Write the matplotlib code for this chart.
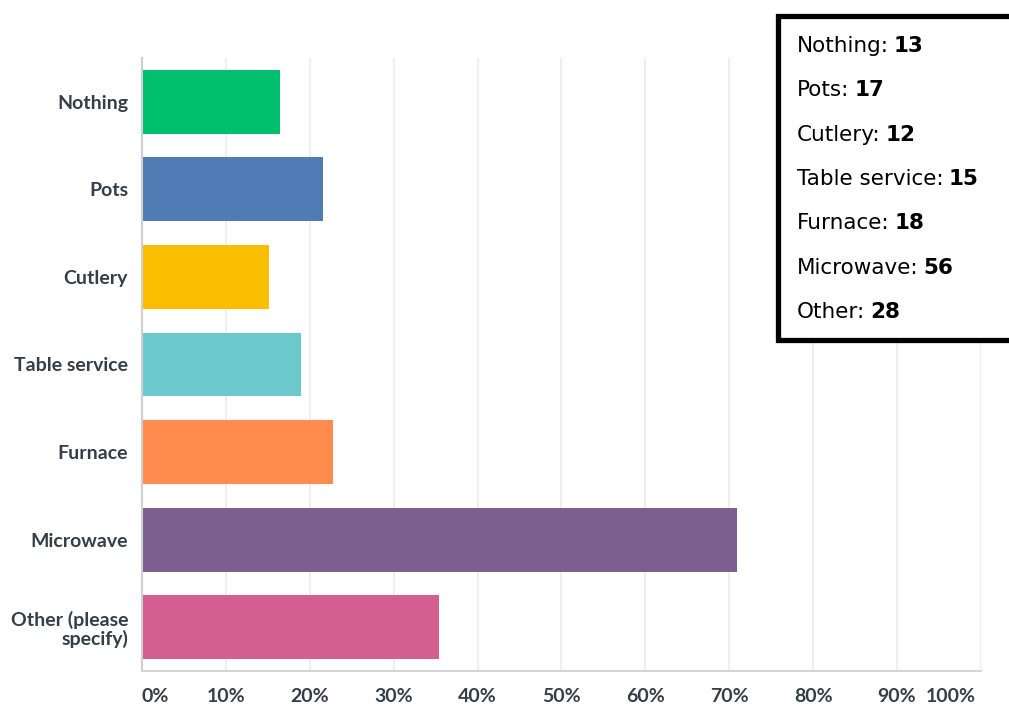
import numpy as np
import matplotlib.pyplot as plt
from matplotlib.patches import Rectangle
from matplotlib.text import Annotation
from matplotlib.transforms import offset_copy

# answers, counts and colours of the survey question
categories = ['Nothing', 'Pots', 'Cutlery', 'Table service', 'Furnace',
              'Microwave', 'Other (please\nspecify)']
box_labels = ['Nothing', 'Pots', 'Cutlery', 'Table service', 'Furnace',
              'Microwave', 'Other']
counts = [13, 17, 12, 15, 18, 56, 28]
respondents = 79
colors = ['#00bf6f', '#507cb6', '#f9be00', '#6bc8cd', '#ff8b4f',
          '#7d5e90', '#d25f90']
xticks = [0, 10, 20, 30, 40, 50, 60, 70, 80, 90, 100]
xtick_labels = ['%d%%' % t for t in xticks]

percent = np.array(counts) / respondents * 100
label_color = '#333e48'

fig = plt.figure(figsize=(10.09, 7.09), dpi=100)
ax = fig.add_axes([0.1407, 0.0536, 0.8315, 0.8646])

y = np.arange(len(categories))
ax.barh(y, percent, height=0.73, color=colors, zorder=2)
ax.set_ylim(len(categories) - 0.5, -0.5)
ax.set_xlim(0, 100)

ax.set_xticks(xticks)
ax.set_xticklabels(xtick_labels)
ax.set_yticks(y)
ax.set_yticklabels(categories)
ax.grid(axis='x', color='#ebebeb', linewidth=1.2, zorder=0)
ax.tick_params(length=0)
ax.tick_params(axis='x', pad=12)
ax.tick_params(axis='y', pad=10)
for lbl in ax.get_xticklabels() + ax.get_yticklabels():
    lbl.set_fontfamily('Lato')
    lbl.set_fontweight('bold')
    lbl.set_fontsize(14)
    lbl.set_color(label_color)
for lbl in ax.get_yticklabels():
    lbl.set_linespacing(1.05)
xl = ax.get_xticklabels()
xl[0].set_horizontalalignment('left')
xl[-1].set_horizontalalignment('right')
xl[-1].set_transform(offset_copy(xl[-1].get_transform(), fig=fig, x=-5, units='dots'))

for side in ['top', 'right']:
    ax.spines[side].set_visible(False)
ax.spines['left'].set_color('#cfcfcf')
ax.spines['bottom'].set_color('#d5d5d5')
ax.spines['left'].set_linewidth(1.5)
ax.spines['bottom'].set_linewidth(1.5)

# count box in the top right corner
W, H = 1009, 709
box = Rectangle((778 / W, 1 - 340 / H), 260 / W, 324 / H,
                transform=fig.transFigure, facecolor='white',
                edgecolor='black', linewidth=3.8, zorder=5, clip_on=False)
fig.add_artist(box)

for i, (name, n) in enumerate(zip(box_labels, counts)):
    ypos = 1 - (46 + 44.3 * i) / H
    t = fig.text(797 / W, ypos, name + ':', fontsize=15.5,
                 family='DejaVu Sans', va='center', color='black', zorder=6)
    num = Annotation(str(n), xy=(1, 0), xycoords=t, xytext=(3.5, 0),
                     textcoords='offset points', fontsize=15.5,
                     family='DejaVu Sans', fontweight='bold', va='bottom',
                     ha='left', color='black', zorder=6, annotation_clip=False)
    fig.add_artist(num)

fig.savefig('out.png', dpi=100)
